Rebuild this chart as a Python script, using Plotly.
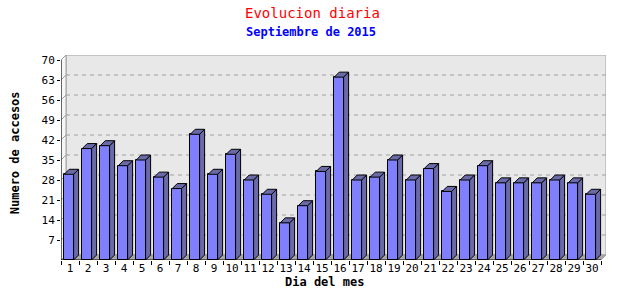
import plotly.graph_objects as go

# ---- data ----
days = list(range(1, 31))
accesos = [30, 39, 40, 33, 35, 29, 25, 44, 30, 37, 28, 23, 13, 19, 31, 64,
           28, 29, 35, 28, 32, 24, 28, 33, 27, 27, 27, 28, 27, 23]
y_ticks = [7, 14, 21, 28, 35, 42, 49, 56, 63, 70]
title = "Evolucion diaria"
subtitle = "Septiembre de 2015"
x_title = "Dia del mes"
y_title = "Numero de accesos"

# ---- style / geometry ----
FONT = "DejaVu Sans Mono"
YMAX = 70
DX = 5 / 18.0          # depth in x units (5 px)
DY = 5 * 70 / 200.0    # depth in y units (5 px)
XL, XR = 0.5, 30.5
W_FRONT = 0.52
OFF = -0.32
FRONT = "#8080ff"
SIDE = "#6a6aa8"
GRID = "#a0a0a0"

fig = go.Figure()

# front faces
fig.add_trace(go.Bar(
    x=days, y=accesos, width=W_FRONT, offset=OFF,
    marker=dict(color=FRONT, line=dict(color="black", width=1)),
    hoverinfo="x+y", showlegend=False))

# side and top faces (3D effect) computed from the data
sx, sy, tx, ty = [], [], [], []
for d, v in zip(days, accesos):
    xl = d + OFF
    xr = xl + W_FRONT
    sx += [xr, xr + DX, xr + DX, xr, xr, None]
    sy += [0, DY, v + DY, v, 0, None]
    tx += [xl, xl + DX, xr + DX, xr, xl, None]
    ty += [v, v + DY, v + DY, v, v, None]
for px, py in ((sx, sy), (tx, ty)):
    fig.add_trace(go.Scatter(
        x=px, y=py, mode="lines", fill="toself", fillcolor=SIDE,
        line=dict(color="black", width=1), hoverinfo="skip",
        showlegend=False))

shapes = []
# back plane
shapes.append(dict(type="rect", xref="x", yref="y", layer="below",
                   x0=XL + DX, x1=XR + DX, y0=DY, y1=YMAX + DY,
                   fillcolor="#e8e8e8", line=dict(color=GRID, width=1)))
# left wall
shapes.append(dict(type="path", xref="x", yref="y", layer="below",
                   path=f"M {XL},0 L {XL},{YMAX} L {XL+DX},{YMAX+DY} L {XL+DX},{DY} Z",
                   fillcolor="#f6f6f6", line=dict(color=GRID, width=1)))
# floor
shapes.append(dict(type="path", xref="x", yref="y", layer="below",
                   path=f"M {XL},0 L {XR},0 L {XR+DX},{DY} L {XL+DX},{DY} Z",
                   fillcolor="#a8a8a8", line=dict(color=GRID, width=1)))
# grid lines
for v in y_ticks[:-1]:
    shapes.append(dict(type="line", xref="x", yref="y", layer="below",
                       x0=XL + DX, x1=XR + DX, y0=v + DY, y1=v + DY,
                       line=dict(color=GRID, width=1, dash="4px,4px")))
    shapes.append(dict(type="line", xref="x", yref="y", layer="below",
                       x0=XL, x1=XL + DX, y0=v, y1=v + DY,
                       line=dict(color=GRID, width=1)))
# front axis lines
shapes.append(dict(type="line", xref="x", yref="y", x0=XL, x1=XL, y0=0, y1=YMAX,
                   line=dict(color="black", width=1)))
shapes.append(dict(type="line", xref="x", yref="y", x0=XL, x1=XR, y0=0, y1=0,
                   line=dict(color="black", width=1)))

annotations = [
    dict(text=title, xref="paper", yref="paper", x=0.4617, y=1.2034,
         xanchor="center", yanchor="middle", showarrow=False,
         font=dict(family=FONT, size=14, color="#ff0000")),
    dict(text=f"<b>{subtitle}</b>", xref="paper", yref="paper", x=0.458, y=1.112,
         xanchor="center", yanchor="middle", showarrow=False,
         font=dict(family=FONT, size=12, color="#0000ff")),
    dict(text=f"<b>{x_title}</b>", xref="paper", yref="paper", x=0.483, y=-0.107,
         xanchor="center", yanchor="middle", showarrow=False,
         font=dict(family=FONT, size=12, color="black")),
    dict(text=f"<b>{y_title}</b>", xref="paper", yref="paper", x=-0.0839, y=0.522,
         xanchor="center", yanchor="middle", showarrow=False, textangle=-90,
         font=dict(family=FONT, size=12, color="black")),
]

fig.update_layout(
    width=640, height=300,
    margin=dict(l=61, r=34, t=55, b=40),
    paper_bgcolor="white", plot_bgcolor="white",
    shapes=shapes, annotations=annotations,
    bargap=0,
    xaxis=dict(range=[XL, XR + DX], tickmode="array", tickvals=days,
               ticktext=[str(d) for d in days], ticks="", showgrid=False,
               zeroline=False, showline=False,
               tickfont=dict(family=FONT, size=11, color="black"),
               minor=dict(tickmode="linear", tick0=0.5, dtick=1, ticks="outside",
                          ticklen=4, tickcolor="black", showgrid=False)),
    yaxis=dict(range=[0, YMAX + DY], tickmode="array", tickvals=y_ticks,
               ticks="outside", ticklen=3, tickcolor="black", showgrid=False,
               zeroline=False, showline=False,
               tickfont=dict(family=FONT, size=11, color="black")),
)

fig.write_html("out.html")
